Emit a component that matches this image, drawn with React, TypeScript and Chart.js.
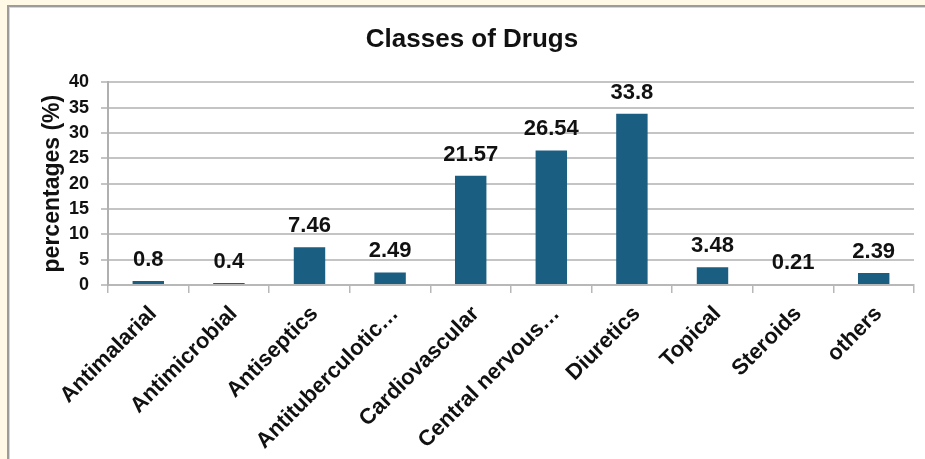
import React, { useEffect, useRef } from 'react';
import { Chart, registerables } from 'chart.js';

Chart.register(...registerables);

const categories = [
  'Antimalarial',
  'Antimicrobial',
  'Antiseptics',
  'Antituberculotic…',
  'Cardiovascular',
  'Central nervous…',
  'Diuretics',
  'Topical',
  'Steroids',
  'others',
];
const percentages = [0.8, 0.4, 7.46, 2.49, 21.57, 26.54, 33.8, 3.48, 0.21, 2.39];
const yMin = 0;
const yMax = 40;
const yStep = 5;
const chartTitle = 'Classes of Drugs';
const yAxisTitle = 'percentages (%)';

const FONT = "'Liberation Sans', Arial, sans-serif";
const BAR_COLOR = '#1a5f82';
const TEXT_COLOR = '#111111';

const framePlugin = {
  id: 'frame',
  beforeDraw(chart: any) {
    const { ctx, width, height } = chart;
    ctx.save();
    ctx.fillStyle = '#fff9e6';
    ctx.fillRect(0, 0, width, height);
    ctx.fillStyle = '#ffffff';
    ctx.fillRect(7, 5, width - 7, height - 5);
    ctx.fillStyle = '#9c9c9c';
    ctx.fillRect(7, 5, width - 7, 2);
    ctx.fillRect(7, 5, 2, height - 5);
    ctx.fillStyle = '#d6d6d6';
    ctx.fillRect(9, 7, width - 9, 1);
    ctx.fillRect(9, 7, 1, height - 7);
    ctx.restore();
  },
};

const valueLabelPlugin = {
  id: 'valueLabels',
  afterDatasetsDraw(chart: any) {
    const { ctx } = chart;
    const meta = chart.getDatasetMeta(0);
    ctx.save();
    ctx.font = `bold 22px ${FONT}`;
    ctx.fillStyle = TEXT_COLOR;
    ctx.textAlign = 'center';
    ctx.textBaseline = 'alphabetic';
    meta.data.forEach((bar: any, i: number) => {
      ctx.fillText(String(percentages[i]), bar.x, bar.y - 15);
    });
    ctx.restore();
  },
};

export default function App() {
  const canvasRef = useRef<HTMLCanvasElement | null>(null);

  useEffect(() => {
    if (!canvasRef.current) return;
    const chart = new Chart(canvasRef.current, {
      type: 'bar',
      data: {
        labels: categories,
        datasets: [
          {
            data: percentages,
            backgroundColor: BAR_COLOR,
            borderWidth: 0,
            categoryPercentage: 1,
            barPercentage: 0.39,
          },
        ],
      },
      options: {
        responsive: false,
        animation: false,
        layout: { padding: { left: 30, right: 11, top: 10, bottom: 0 } },
        plugins: {
          legend: { display: false },
          tooltip: { enabled: false },
          title: {
            display: true,
            text: chartTitle,
            color: TEXT_COLOR,
            font: { family: FONT, size: 26, weight: 'bold', lineHeight: 1.2 },
            padding: { top: 14, bottom: 27 },
          },
        },
        scales: {
          x: {
            afterFit: (scale: any) => {
              scale.height = 174;
            },
            grid: {
              offset: true,
              drawOnChartArea: false,
              drawTicks: true,
              tickLength: 8,
              color: '#b8b8b8',
              lineWidth: 1.5,
            },
            border: { display: true, color: '#b8b8b8', width: 2 },
            ticks: {
              autoSkip: false,
              maxRotation: 45,
              minRotation: 45,
              padding: 8,
              labelOffset: 5,
              color: TEXT_COLOR,
              font: { family: FONT, size: 22, weight: 'bold' },
            },
          },
          y: {
            min: yMin,
            max: yMax,
            afterFit: (scale: any) => {
              scale.width = 78;
            },
            grid: {
              drawTicks: true,
              tickLength: 7,
              color: '#c4c4c4',
              lineWidth: 2,
            },
            border: { display: true, color: '#b0b0b0', width: 2 },
            ticks: {
              stepSize: yStep,
              padding: 12,
              color: TEXT_COLOR,
              font: { family: FONT, size: 18, weight: 'bold' },
            },
            title: {
              display: true,
              text: yAxisTitle,
              color: TEXT_COLOR,
              font: { family: FONT, size: 23, weight: 'bold', lineHeight: 1.2 },
              padding: { top: 9, bottom: 0 },
            },
          },
        },
      },
      plugins: [framePlugin, valueLabelPlugin],
    } as any);
    return () => chart.destroy();
  }, []);

  return (
    <div style={{ position: 'fixed', left: 0, top: 0, width: 925, height: 459 }}>
      <canvas ref={canvasRef} width={925} height={459} style={{ display: 'block' }} />
    </div>
  );
}
